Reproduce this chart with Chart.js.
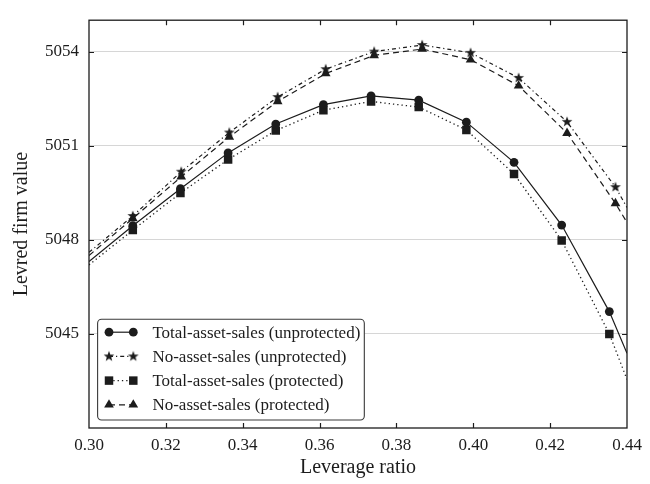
<!DOCTYPE html>
<html><head><meta charset="utf-8">
<script src="https://cdn.jsdelivr.net/npm/chart.js@4"></script>
<style>html,body{margin:0;padding:0;background:#fff}#wrap{width:650px;height:484px}</style>
</head><body><div id="wrap"><canvas id="c" width="650" height="484"></canvas></div>
<script>
// ---- data ----
const leverageTotal = [0.3114, 0.3238, 0.3362, 0.3486, 0.3610, 0.3734, 0.3858, 0.3982, 0.4106, 0.4230, 0.4354];
const leverageNo    = [0.3114, 0.3240, 0.3365, 0.3491, 0.3616, 0.3742, 0.3867, 0.3993, 0.4118, 0.4244, 0.4370];
const edgeX = [0.30, 0.44];

const totalUnprotected = [5048.45, 5049.63, 5050.77, 5051.69, 5052.31, 5052.59, 5052.45, 5051.75, 5050.47, 5048.47, 5045.71];
const noUnprotected    = [5048.76, 5050.17, 5051.42, 5052.55, 5053.44, 5054.00, 5054.21, 5053.96, 5053.16, 5051.76, 5049.68];
const totalProtected   = [5048.31, 5049.49, 5050.56, 5051.48, 5052.13, 5052.41, 5052.23, 5051.50, 5050.10, 5047.98, 5045.00];
const noProtected      = [5048.68, 5050.01, 5051.28, 5052.41, 5053.30, 5053.88, 5054.08, 5053.74, 5052.91, 5051.40, 5049.16];

// line values where each curve meets the left / right frame
const edgeTotalUnprotected = [5047.31, 5044.38];
const edgeNoUnprotected    = [5047.60, 5049.03];
const edgeTotalProtected   = [5047.20, 5043.55];
const edgeNoProtected      = [5047.50, 5048.55];

const seriesNames = ['Total-asset-sales (unprotected)', 'No-asset-sales (unprotected)', 'Total-asset-sales (protected)', 'No-asset-sales (protected)'];
const yTicks = [5045, 5048, 5051, 5054];
const xTitle = 'Leverage ratio';
const yTitle = 'Levred firm value';

// ---- styling ----
const INK = '#1c1c1c';
const FONT = '"Liberation Serif", "Times New Roman", serif';

function makeStar(outer, inner) {
  const s = Math.ceil(outer * 2 + 2);
  const cv = document.createElement('canvas');
  cv.width = s; cv.height = s;
  const g = cv.getContext('2d');
  g.fillStyle = INK;
  g.beginPath();
  for (let i = 0; i < 10; i++) {
    const r = i % 2 === 0 ? outer : inner;
    const a = -Math.PI / 2 + i * Math.PI / 5;
    const px = s / 2 + r * Math.cos(a), py = s / 2 + r * Math.sin(a);
    if (i === 0) g.moveTo(px, py); else g.lineTo(px, py);
  }
  g.closePath(); g.fill();
  return cv;
}
const starImg = makeStar(5.6, 2.3);

function build(xs, ys, edge) {
  const pts = [{x: edgeX[0], y: edge[0]}];
  xs.forEach((x, i) => pts.push({x, y: ys[i]}));
  pts.push({x: edgeX[1], y: edge[1]});
  return pts;
}
function radii(n, r) { const a = [0]; for (let i = 0; i < n; i++) a.push(r); a.push(0); return a; }

const datasets = [
  {label: seriesNames[0], data: build(leverageTotal, totalUnprotected, edgeTotalUnprotected),
   borderColor: INK, backgroundColor: INK, borderWidth: 1.2, borderDash: [],
   pointStyle: 'circle', pointRadius: radii(11, 4.4), pointBorderWidth: 0},
  {label: seriesNames[1], data: build(leverageNo, noUnprotected, edgeNoUnprotected),
   borderColor: INK, backgroundColor: INK, borderWidth: 1.2, borderDash: [4, 3, 1.2, 3],
   pointStyle: starImg, pointRadius: radii(11, 5), pointBorderWidth: 0},
  {label: seriesNames[2], data: build(leverageTotal, totalProtected, edgeTotalProtected),
   borderColor: INK, backgroundColor: INK, borderWidth: 1.3, borderDash: [1.3, 3],
   pointStyle: 'rect', pointRadius: radii(11, 6), pointBorderWidth: 0},
  {label: seriesNames[3], data: build(leverageNo, noProtected, edgeNoProtected),
   borderColor: INK, backgroundColor: INK, borderWidth: 1.2, borderDash: [6, 4],
   pointStyle: 'triangle', pointRadius: radii(11, 5.6), pointBorderWidth: 0}
];
datasets.forEach(d => { d.tension = 0; d.fill = false; d.pointHoverRadius = 0; });

// frame, inward ticks
const framePlugin = {
  id: 'frame',
  afterDraw(chart) {
    const {ctx, chartArea: a, scales: {x, y}} = chart;
    ctx.save();
    ctx.strokeStyle = INK; ctx.lineWidth = 1.3;
    ctx.strokeRect(a.left, a.top, a.right - a.left, a.bottom - a.top);
    ctx.lineWidth = 1.2;
    const tl = 5;
    ctx.beginPath();
    x.ticks.forEach(t => {
      const px = Math.round(x.getPixelForValue(t.value)) + 0.5;
      if (px <= a.left + 1 || px >= a.right - 1) return;
      ctx.moveTo(px, a.bottom); ctx.lineTo(px, a.bottom - tl);
      ctx.moveTo(px, a.top); ctx.lineTo(px, a.top + tl);
    });
    y.ticks.forEach(t => {
      const py = Math.round(y.getPixelForValue(t.value)) + 0.5;
      ctx.moveTo(a.left, py); ctx.lineTo(a.left + tl, py);
      ctx.moveTo(a.right, py); ctx.lineTo(a.right - tl, py);
    });
    ctx.stroke();
    ctx.restore();
  }
};

// legend drawn inside the plot (lower left)
const legendPlugin = {
  id: 'boxLegend',
  afterDraw(chart) {
    const {ctx, chartArea: a} = chart;
    ctx.save();
    ctx.font = '17px ' + FONT;
    const rowH = 24.2;
    const n = chart.data.datasets.length;
    const boxL = a.left + 8.6, boxB = a.bottom - 8;
    const boxH = n * rowH + 4;
    const boxT = boxB - boxH;
    const m1 = boxL + 11.4, m2 = boxL + 35.7, tx = boxL + 54.8;
    let maxW = 0;
    chart.data.datasets.forEach(d => { maxW = Math.max(maxW, ctx.measureText(d.label).width); });
    const boxW = tx - boxL + maxW + 4;
    ctx.fillStyle = '#fff';
    ctx.strokeStyle = '#3a3a3a'; ctx.lineWidth = 1.1;
    ctx.beginPath();
    ctx.roundRect(boxL, boxT, boxW, boxH, 4);
    ctx.fill(); ctx.stroke();
    chart.data.datasets.forEach((d, i) => {
      const cy = boxT + 13 + i * rowH;
      ctx.save();
      ctx.strokeStyle = d.borderColor; ctx.lineWidth = d.borderWidth;
      ctx.setLineDash(d.borderDash || []);
      ctx.beginPath(); ctx.moveTo(m1, cy); ctx.lineTo(m2, cy); ctx.stroke();
      ctx.restore();
      const r = d.pointRadius[1];
      ctx.fillStyle = d.backgroundColor; ctx.strokeStyle = d.borderColor;
      Chart.helpers.drawPoint(ctx, {pointStyle: d.pointStyle, radius: r, rotation: 0, borderWidth: 0}, m1, cy);
      ctx.fillStyle = d.backgroundColor;
      Chart.helpers.drawPoint(ctx, {pointStyle: d.pointStyle, radius: r, rotation: 0, borderWidth: 0}, m2, cy);
      ctx.fillStyle = INK;
      ctx.textBaseline = 'middle'; ctx.textAlign = 'left';
      ctx.fillText(d.label, tx, cy + 1);
    });
    ctx.restore();
  }
};

new Chart(document.getElementById('c'), {
  type: 'line',
  data: {datasets},
  options: {
    responsive: false, animation: false, devicePixelRatio: 1,
    layout: {padding: {left: 0, right: 23, top: 12, bottom: 0}},
    plugins: {legend: {display: false}, tooltip: {enabled: false}},
    elements: {line: {borderCapStyle: 'butt'}},
    scales: {
      x: {
        type: 'linear', min: 0.30, max: 0.44,
        grid: {display: false, drawTicks: false},
        border: {display: false},
        ticks: {stepSize: 0.02, padding: 7, color: INK, font: {family: FONT, size: 17},
                callback: v => v.toFixed(2), maxRotation: 0},
        title: {display: true, text: xTitle, color: INK, font: {family: FONT, size: 20}, padding: {top: 0, bottom: 4}},
        afterFit(s) { s.height = 56; }
      },
      y: {
        type: 'linear', min: 5042, max: 5055,
        afterBuildTicks(s) { s.ticks = yTicks.map(v => ({value: v})); },
        grid: {color: '#d6d6d6', lineWidth: 1, drawTicks: false},
        border: {display: false},
        ticks: {padding: 10, color: INK, font: {family: FONT, size: 17}, callback: v => String(v)},
        title: {display: true, text: yTitle, color: INK, font: {family: FONT, size: 20}, padding: {top: 9.5, bottom: 0}},
        afterFit(s) { s.width = 89; }
      }
    }
  },
  plugins: [framePlugin, legendPlugin]
});
</script>
</body></html>
